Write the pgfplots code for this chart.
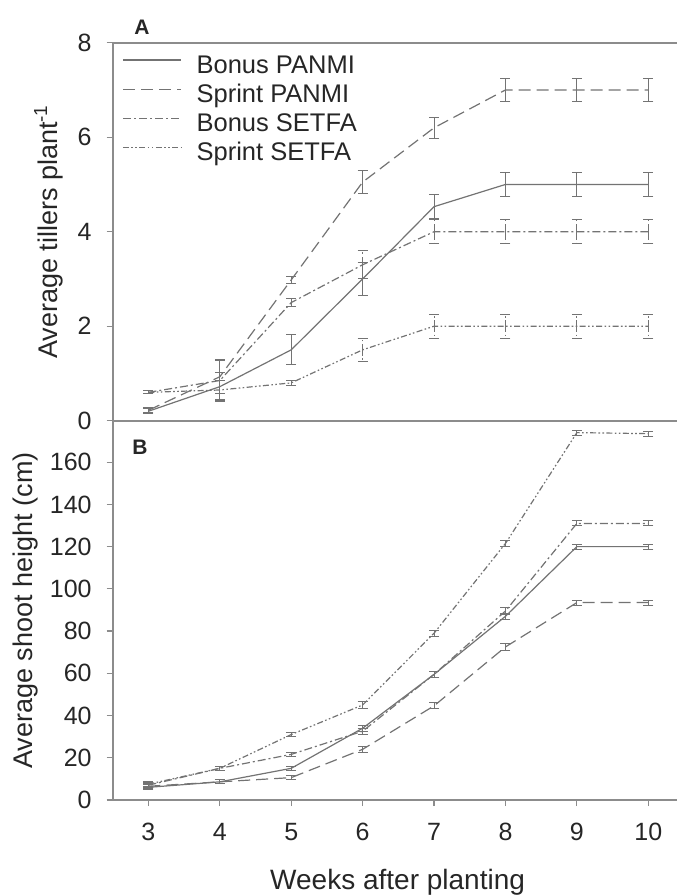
\documentclass[border=0pt]{standalone}
\usepackage{fontspec}
\setmainfont{Liberation Sans}
\usepackage{pgfplots}
\pgfplotsset{compat=1.18}
\definecolor{ln}{gray}{0.45}
\definecolor{ax}{gray}{0.55}
\definecolor{tx}{gray}{0.15}
\pgfplotstableread{
x y e
3 0.20 0.05
4 0.72 0.30
5 1.50 0.32
6 3.00 0.35
7 4.53 0.25
8 5.00 0.25
9 5.00 0.25
10 5.00 0.25
}\ABP
\pgfplotstableread{
x y e
3 0.22 0.05
4 0.93 0.35
5 2.98 0.08
6 5.05 0.25
7 6.20 0.22
8 7.00 0.25
9 7.00 0.25
10 7.00 0.25
}\ASP
\pgfplotstableread{
x y e
3 0.60 0.03
4 0.85 0.45
5 2.50 0.08
6 3.30 0.30
7 4.00 0.25
8 4.00 0.25
9 4.00 0.25
10 4.00 0.25
}\ABS
\pgfplotstableread{
x y e
3 0.60 0.03
4 0.65 0.20
5 0.80 0.06
6 1.50 0.25
7 2.00 0.25
8 2.00 0.25
9 2.00 0.25
10 2.00 0.25
}\ASS
\pgfplotstableread{
x y e
3 6.0 1.2
4 8.6 1.0
5 15.0 1.0
6 34.0 1.5
7 59.5 1.5
8 87.0 1.5
9 120.0 1.2
10 120.0 1.2
}\BBP
\pgfplotstableread{
x y e
3 6.5 1.2
4 8.6 1.0
5 10.6 1.0
6 24.0 1.5
7 44.6 1.5
8 72.5 1.5
9 93.5 1.2
10 93.5 1.2
}\BSP
\pgfplotstableread{
x y e
3 7.0 1.2
4 15.0 1.0
5 21.6 1.0
6 32.6 1.5
7 59.5 1.5
8 89.5 1.5
9 131.0 1.2
10 131.0 1.2
}\BBS
\pgfplotstableread{
x y e
3 7.5 1.2
4 15.0 1.0
5 31.0 1.0
6 45.0 1.5
7 79.0 1.5
8 121.5 1.5
9 174.0 1.2
10 173.5 1.2
}\BSS
\pgfplotsset{
  common/.style={
    scale only axis, width=285.65pt, xmin=2.5, xmax=10.5,
    axis line style={draw=ax, line width=1pt},
    tick style={draw=ax, line width=0.6pt}, tick align=outside, major tick length=3pt,
    xtick pos=bottom, ytick pos=left,
    tick label style={font=\fontsize{12.5}{14}\selectfont, text=tx},
    yticklabel style={xshift=-4pt},
    xticklabel style={yshift=-5pt},
    /pgf/number format/assume math mode=true,
    label style={font=\fontsize{13.5}{15}\selectfont, text=tx},
    error bars/y dir=both, error bars/y explicit,
    error bars/error mark options={rotate=90, mark size=2.5pt, draw=ln, line width=0.5pt},
    error bars/error bar style={draw=ln, line width=0.5pt},
  },
  sBP/.style={draw=ln, line width=0.6pt, solid, mark=none},
  sSP/.style={draw=ln, line width=0.6pt, dash pattern=on 6pt off 3pt, mark=none},
  sBS/.style={draw=ln, line width=0.6pt, dash pattern=on 4pt off 1.5pt on 1pt off 1.5pt, mark=none},
  sSS/.style={draw=ln, line width=0.6pt, dash pattern=on 3pt off 1.2pt on 0.8pt off 1.2pt on 0.8pt off 1.2pt, mark=none},
}
\begin{document}
\begin{tikzpicture}[x=1pt,y=1pt]
\path[use as bounding box] (0,0) rectangle (338,447.5);
\begin{axis}[common, at={(56.35pt,237.15pt)}, anchor=south west,
  height=189pt, ymin=0, ymax=8, ytick={0,2,4,6,8}, xmajorticks=false,
  ylabel={Average tillers plant\textsuperscript{-1}},
  ylabel style={at={(axis description cs:-0.1123,0.5)}, anchor=center},
  legend style={at={(axis description cs:0.0163,0.973)}, anchor=north west, draw=none, fill=none,
    font=\fontsize{12.75}{14.6}\selectfont, text=tx, row sep=0pt, column sep=7.5pt, inner sep=0pt,
    nodes={inner sep=0pt, text height=10pt, text depth=4.6pt}},
  legend cell align=left,
  legend image code/.code={\draw[#1] (0pt,4pt) -- (29pt,4pt);},
]
\addplot[sBP] table[x=x,y=y,y error=e] {\ABP};
\addlegendentry{Bonus PANMI}
\addplot[sSP] table[x=x,y=y,y error=e] {\ASP};
\addlegendentry{Sprint PANMI}
\addplot[sBS] table[x=x,y=y,y error=e] {\ABS};
\addlegendentry{Bonus SETFA}
\addplot[sSS] table[x=x,y=y,y error=e] {\ASS};
\addlegendentry{Sprint SETFA}
\end{axis}
\begin{axis}[common, at={(56.35pt,47.5pt)}, anchor=south west,
  height=189.5pt, ymin=0, ymax=179.5, ytick={0,20,...,160}, xtick={3,...,10},
  ylabel={Average shoot height (cm)},
  ylabel style={at={(axis description cs:-0.1525,0.5)}, anchor=center},
  xlabel={Weeks after planting},
  xlabel style={at={(axis description cs:0.4987,-0.236)}, anchor=base, font=\fontsize{14}{16}\selectfont},
]
\addplot[sBP] table[x=x,y=y,y error=e] {\BBP};
\addplot[sSP] table[x=x,y=y,y error=e] {\BSP};
\addplot[sBS] table[x=x,y=y,y error=e] {\BBS};
\addplot[sSS] table[x=x,y=y,y error=e] {\BSS};
\end{axis}
\node[font=\fontsize{10.5}{12}\selectfont\bfseries, text=tx] at (71pt,434pt) {A};
\node[font=\fontsize{10.5}{12}\selectfont\bfseries, text=tx] at (70pt,224pt) {B};
\end{tikzpicture}
\end{document}
